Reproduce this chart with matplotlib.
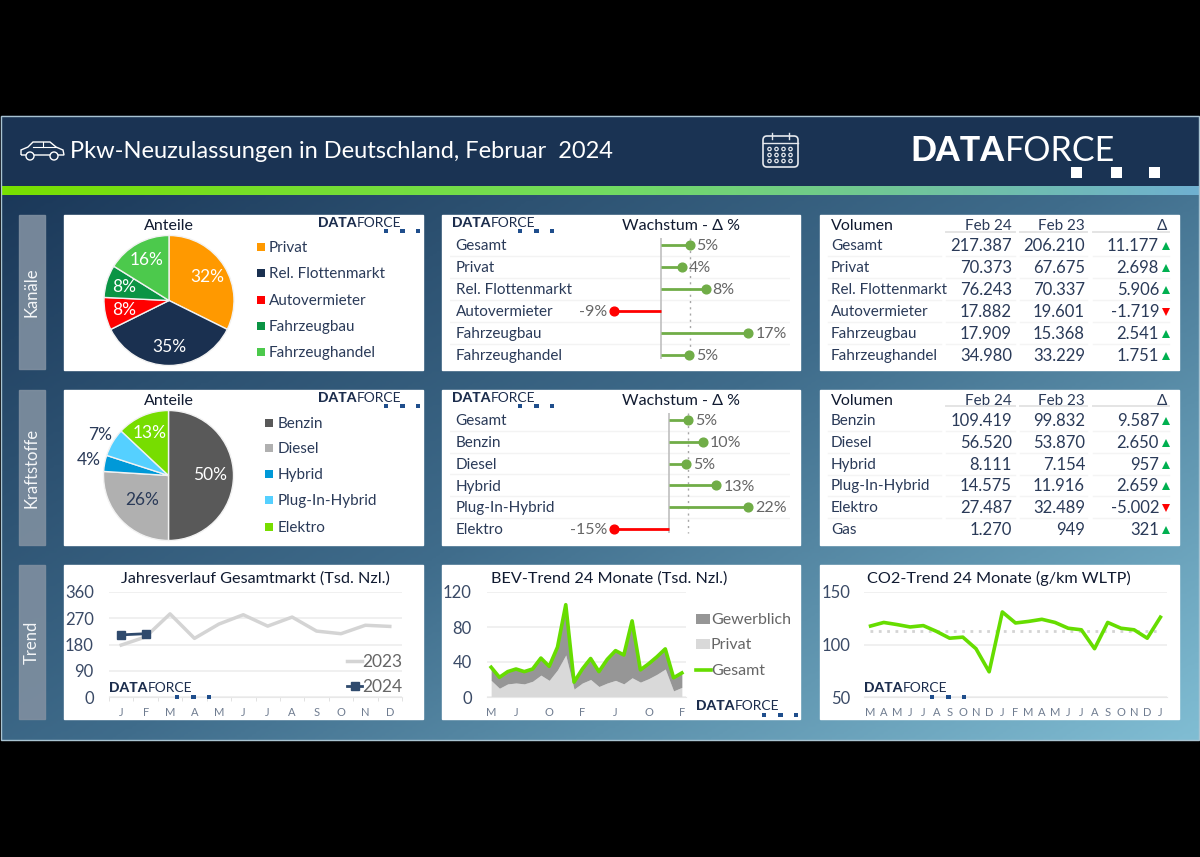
import numpy as np
import matplotlib
matplotlib.use("Agg")
import matplotlib.pyplot as plt
from matplotlib.patches import Rectangle, FancyBboxPatch, Circle, PathPatch
from matplotlib.path import Path
from matplotlib.colors import LinearSegmentedColormap

# ---------- data ----------
channels = ["Gesamt", "Privat", "Rel. Flottenmarkt", "Autovermieter", "Fahrzeugbau", "Fahrzeughandel"]
ch_feb24 = [217387, 70373, 76243, 17882, 17909, 34980]
ch_feb23 = [206210, 67675, 70337, 19601, 15368, 33229]
ch_delta = [11177, 2698, 5906, -1719, 2541, 1751]
ch_growth = [5.4, 4.0, 8.4, -8.8, 16.5, 5.3]
ch_growth_lbl = ["5%", "4%", "8%", "-9%", "17%", "5%"]
ch_share = [32, 35, 8, 8, 16]
ch_share_lbl = ["32%", "35%", "8%", "8%", "16%"]
ch_colors = ["#ff9900", "#1a3050", "#ff0000", "#0a9444", "#4cc94c"]

fuels_tab = ["Benzin", "Diesel", "Hybrid", "Plug-In-Hybrid", "Elektro", "Gas"]
fu_feb24 = [109419, 56520, 8111, 14575, 27487, 1270]
fu_feb23 = [99832, 53870, 7154, 11916, 32489, 949]
fu_delta = [9587, 2650, 957, 2659, -5002, 321]
fu_names = ["Benzin", "Diesel", "Hybrid", "Plug-In-Hybrid", "Elektro"]
fu_share = [50, 26, 4, 7, 13]
fu_share_lbl = ["50%", "26%", "4%", "7%", "13%"]
fu_colors = ["#595959", "#b0b0b0", "#0099d8", "#55d0ff", "#77dd00"]
fu_growth_names = ["Gesamt", "Benzin", "Diesel", "Hybrid", "Plug-In-Hybrid", "Elektro"]
fu_growth = [5.4, 9.6, 4.9, 13.4, 22.3, -15.4]
fu_growth_lbl = ["5%", "10%", "5%", "13%", "22%", "-15%"]

months12 = ["J", "F", "M", "A", "M", "J", "J", "A", "S", "O", "N", "D"]
market_2023 = [178, 206, 285, 201, 250, 282, 243, 274, 226, 217, 246, 242]
market_2024 = [213, 217]

bev_total = [34, 22.5, 29, 32, 29, 32, 44.5, 35, 57, 105.5, 17, 32, 44, 29, 43, 53, 48, 87, 31, 38, 46, 55, 22, 27.5]
bev_private = [19, 10, 15, 16, 15, 18, 25, 19, 31, 48, 9, 16, 20, 12, 16, 19, 15, 22, 17, 21, 26, 32, 7, 11]
bev_tick_pos = [0, 3, 7, 11, 15, 19, 23]
bev_tick_lbl = ["M", "J", "O", "F", "J", "O", "F"]

co2 = [117.6, 121, 119, 116.7, 118, 112.5, 106, 107, 96, 74, 131, 120.5, 122, 124, 121, 115.5, 114, 96, 121, 115.5, 114, 106, 126]
co2_avg = 113
co2_months = list("MAMJJASONDJFMAMJJASONDJ")

NAVY = "#2a3a58"
GREY = "#666666"
FONT = "Lato"
plt.rcParams["font.family"] = [FONT, "DejaVu Sans"]

W, H = 1200, 857
fig = plt.figure(figsize=(12, 8.57), dpi=100, facecolor="black")


def axpx(x0, y0, x1, y1, **kw):
    return fig.add_axes([x0 / W, 1 - y1 / H, (x1 - x0) / W, (y1 - y0) / H], **kw)


bg = fig.add_axes([0, 0, 1, 1], zorder=0)
bg.axis("off")
fg = fig.add_axes([0, 0, 1, 1], zorder=20)
fg.axis("off")
fg.patch.set_alpha(0)


def T(x, y, s, **kw):
    kw.setdefault("va", "center")
    return fg.text(x, y + 1.2, s, **kw)


# ---------- background ----------
yy, xx = np.mgrid[0:1:200j, 0:1:300j]
cmap = LinearSegmentedColormap.from_list("bg", ["#1b3859", "#3f6c8b", "#80bdd3"])
bg.imshow(xx * 0.55 + yy * 0.45, extent=(1, 1199, 740, 190), aspect="auto", cmap=cmap, vmin=0, vmax=1)
bg.add_patch(Rectangle((1, 116), 1198, 71, color="#1a3353", zorder=2))
strip = LinearSegmentedColormap.from_list("st", ["#78e000", "#72dc60", "#6fb0d0"])
bg.imshow(np.linspace(0, 1, 300).reshape(1, -1), extent=(1, 1199, 195, 186), aspect="auto", cmap=strip, zorder=3)
bg.add_patch(Rectangle((1, 115.5), 1198, 624.5, fill=False, ec="#a9c4d2", lw=1, zorder=4))
bg.set_xlim(0, W)
bg.set_ylim(H, 0)
fg.set_xlim(0, W)
fg.set_ylim(H, 0)

panels = [(64, 215, 423, 370), (442, 215, 800, 370), (820, 215, 1179, 370),
          (64, 390, 423, 545), (442, 390, 800, 545), (820, 390, 1179, 545),
          (64, 565, 423, 719), (442, 565, 800, 719), (820, 565, 1179, 719)]
for p in panels:
    bg.add_patch(Rectangle((p[0], p[1]), p[2] - p[0], p[3] - p[1], color="white", zorder=5))
for (y0, y1, s) in [(215, 369, "Kanäle"), (390, 545, "Kraftstoffe"), (565, 719, "Trend")]:
    bg.add_patch(Rectangle((19, y0), 26, y1 - y0, color="#7f8fa0", alpha=0.9, zorder=5))
    fg.text(32, (y0 + y1) / 2, s, rotation=90, color="#f4f6f8", fontsize=12, ha="center", va="center")


def logo(x, y, scale, col, sqcol):
    fs = 24.5 * scale
    t1 = fg.text(x, y, "DATA", color=col, fontsize=fs, weight="black", ha="left", va="center")
    r = fig.canvas.get_renderer()
    e = t1.get_window_extent(r)
    fg.text(x + e.width + 1 * scale, y, "FORCE", color=col, fontsize=fs, ha="left", va="center")
    s = 11 * scale
    for dx in (166, 206, 244):
        fg.add_patch(Rectangle((x + dx * scale - s / 2, y + 21 * scale - s / 2), s, s, color=sqcol, lw=0))


# ---------- header ----------
T(70, 150, "Pkw-Neuzulassungen in Deutschland, Februar  2024", color="white", fontsize=17, ha="left")
logo(910, 151, 1.0, "white", "white")
# car icon
car = Path([(21, 155), (21, 150), (28, 147), (33, 142), (50, 142), (56, 147), (63, 150), (64, 155), (21, 155)])
fg.add_patch(PathPatch(car, fc="none", ec="white", lw=1))
fg.plot([33, 56], [147, 147], color="white", lw=0.8)
fg.plot([43, 43], [142, 147], color="white", lw=0.8)
for cx in (30, 54):
    fg.add_patch(Circle((cx, 156), 4, fc="#1a3353", ec="white", lw=1))
# calendar icon
fg.add_patch(FancyBboxPatch((763, 136), 35, 31, boxstyle="round,pad=0,rounding_size=4", fc="none", ec="#e6e9ee", lw=1.2))
fg.plot([763, 798], [143, 143], color="#e6e9ee", lw=1)
for cx in (772, 789):
    fg.plot([cx, cx], [133, 139], color="#e6e9ee", lw=1)
for cy in (149, 155, 161):
    for cx in (769.5, 776.5, 783.5, 790.5):
        fg.add_patch(Circle((cx, cy), 1.7, fc="none", ec="#e6e9ee", lw=0.9))


# ---------- pies ----------
def pie(cx, cy, r, vals, labels, colors, lblcols, lblr):
    ax = axpx(cx - r, cy - r, cx + r, cy + r, zorder=10)
    wedges, _ = ax.pie(vals, colors=colors, startangle=90, counterclock=False, radius=1,
                       wedgeprops=dict(edgecolor="#f2f2f2", linewidth=1))
    ax.set_xlim(-1, 1)
    ax.set_ylim(-1, 1)
    ax.patch.set_alpha(0)
    for w, l, c, rr in zip(wedges, labels, lblcols, lblr):
        a = np.deg2rad((w.theta1 + w.theta2) / 2)
        ax.text(rr * np.cos(a), rr * np.sin(a), l, color=c, fontsize=12.5, ha="center", va="center", clip_on=False)


pie(169, 300.5, 65, ch_share, ch_share_lbl, ch_colors, ["white"] * 5, [0.69, 0.72, 0.70, 0.72, 0.72])
pie(168.5, 475.5, 65, fu_share, fu_share_lbl, fu_colors, ["white", NAVY, NAVY, NAVY, "white"], [0.64, 0.56, 1.25, 1.22, 0.72])


def legend(sx, tx, ys, names, colors):
    for y, n, c in zip(ys, names, colors):
        fg.add_patch(Rectangle((sx, y - 4), 8, 8, color=c, lw=0))
        T(tx, y, n, color=NAVY, fontsize=11, ha="left")


legend(257, 269, [247, 273, 300, 326, 352], channels[1:], ch_colors)
legend(265, 278, [423, 448, 474, 500, 527], fu_names, fu_colors)
T(169, 225, "Anteile", color="#101a30", fontsize=11.5, ha="center")
T(169, 399.5, "Anteile", color="#101a30", fontsize=11.5, ha="center")
logo(318, 222.5, 0.41, "#1c2d4d", "#1f4e8c")
logo(452, 222.5, 0.41, "#1c2d4d", "#1f4e8c")
logo(318, 397.5, 0.41, "#1c2d4d", "#1f4e8c")
logo(452, 397.5, 0.41, "#1c2d4d", "#1f4e8c")


# ---------- lollipops ----------
def lollipop(zero, pxper, ytop, rowh, names, vals, lbls, total):
    x0, x1 = 450, 790
    ax = axpx(x0, ytop, x1, ytop + rowh * 6, zorder=10)
    ax.set_xlim((x0 - zero) / pxper, (x1 - zero) / pxper)
    ax.set_ylim(5.5, -0.5)
    ax.axis("off")
    ax.patch.set_alpha(0)
    for i in range(1, 6):
        ax.axhline(i - 0.5, color="#f3f3f3", lw=1, zorder=1)
    ax.vlines(0, -0.3, 5.2, color="#bfbfbf", lw=1.2, zorder=2)
    ax.vlines(total, -0.3, 5.2, color="#a6a6a6", lw=1, linestyles=(0, (1.5, 3)), zorder=2)
    for i, (n, v, l) in enumerate(zip(names, vals, lbls)):
        c = "#70ad47" if v >= 0 else "#ff0000"
        ax.plot([0, v], [i, i], color=c, lw=2, zorder=3, solid_capstyle="butt")
        ax.plot([v], [i], "o", color=c, ms=6.3, zorder=4)
        ax.annotate(l, (v, i), xytext=(5 if v >= 0 else -5, -1), textcoords="offset points",
                    ha="left" if v >= 0 else "right", va="center", color=GREY, fontsize=11.5)
        ax.annotate(n, (0.0, i), xycoords=ax.get_yaxis_transform(), xytext=(4, -1), textcoords="offset points",
                    ha="left", va="center", color=NAVY, fontsize=11)


lollipop(661, 5.3, 234, 22, channels, ch_growth, ch_growth_lbl, ch_growth[0])
lollipop(669, 3.54, 409, 21.8, fu_growth_names, fu_growth, fu_growth_lbl, fu_growth[0])
T(681, 225, "Wachstum - Δ %", color="#101a30", fontsize=11.5, ha="center")
T(681, 399.5, "Wachstum - Δ %", color="#101a30", fontsize=11.5, ha="center")


# ---------- tables ----------
def fmt(v):
    return f"{v:,}".replace(",", ".")


def table(yh, ys, names, a, b, d):
    T(831, yh, "Volumen", color="#101a30", fontsize=11.5, ha="left")
    T(1012, yh, "Feb 24", color=NAVY, fontsize=11, ha="right")
    T(1085, yh, "Feb 23", color=NAVY, fontsize=11, ha="right")
    T(1167, yh, "Δ", color=NAVY, fontsize=11, ha="right")
    for xa, xb in [(946, 1015), (1020, 1087), (1093, 1169)]:
        fg.plot([xa, xb], [yh + 6.5, yh + 6.5], color="#e4e4e4", lw=1.4)
    for i, y in enumerate(ys):
        if i < len(ys) - 1:
            for xa, xb in [(828, 941), (946, 1015), (1020, 1087), (1093, 1169)]:
                fg.plot([xa, xb], [y + 11, y + 11], color="#f4f4f4", lw=1)
        T(831, y, names[i], color=NAVY, fontsize=11, ha="left")
        T(1012, y, fmt(a[i]), color=NAVY, fontsize=12, ha="right")
        T(1085, y, fmt(b[i]), color=NAVY, fontsize=12, ha="right")
        T(1159, y, fmt(d[i]), color=NAVY, fontsize=12, ha="right")
        up = d[i] >= 0
        fg.plot([1166], [y + 1], "^" if up else "v", color="#00b050" if up else "#ff0000", ms=5.5, mew=0)


table(225, [245, 267, 289, 311, 333, 355], channels, ch_feb24, ch_feb23, ch_delta)
table(399.5, [420, 442, 464, 485, 507, 529], fuels_tab, fu_feb24, fu_feb23, fu_delta)


# ---------- trends ----------
def trend_axes(x0, x1, ymin, ymax, yticks, n, xticks, xlabels, pad):
    ax = axpx(x0, 592, x1, 697, zorder=10)
    ax.set_xlim(-0.5, n - 0.5)
    ax.set_ylim(ymin, ymax)
    ax.patch.set_alpha(0)
    for s in ("top", "right", "left"):
        ax.spines[s].set_visible(False)
    ax.spines["bottom"].set_color("#e8e8e8")
    ax.set_yticks(yticks)
    ax.set_yticklabels([str(v) for v in yticks], color="#3a4a66", fontsize=12)
    ax.set_xticks(xticks)
    ax.set_xticklabels(xlabels, color="#6f7c90", fontsize=8)
    ax.tick_params(axis="y", length=0, pad=pad)
    ax.tick_params(axis="x", length=0, pad=7)
    ax.grid(axis="y", color="#eeeeee", lw=1.2)
    ax.set_axisbelow(True)
    return ax


ax1 = trend_axes(109, 402, 0, 360, [0, 90, 180, 270, 360], 12, list(range(12)), months12, 11)
ax1.plot(range(12), market_2023, color="#d4d4d4", lw=2.5)
ax1.plot(range(2), market_2024, color="#2f4a6d", lw=2, marker="s", ms=5.5)
ax1.set_xticks(np.arange(-0.5, 12), minor=True)
ax1.tick_params(axis="x", which="minor", length=3, color="#dddddd")
fg.plot([347, 362], [661, 661], color="#d4d4d4", lw=2.5)
T(362, 661, "2023", color=GREY, fontsize=12.5, ha="left")
fg.plot([347, 362], [685.5, 685.5], color="#2f4a6d", lw=2)
fg.plot([354.5], [685.5], "s", color="#2f4a6d", ms=5.5)
T(362, 685.5, "2024", color=GREY, fontsize=12.5, ha="left")
T(255, 577, "Jahresverlauf Gesamtmarkt (Tsd. Nzl.)", color="#101a30", fontsize=11.7, ha="center")
logo(109, 688.5, 0.41, "#1c2d4d", "#1f4e8c")

ax2 = trend_axes(487, 686, 0, 120, [0, 40, 80, 120], 24, bev_tick_pos, bev_tick_lbl, 11)
xs = np.arange(24)
ax2.fill_between(xs, 0, bev_private, color="#d9d9d9", lw=0)
ax2.fill_between(xs, bev_private, bev_total, color="#969696", lw=0)
ax2.plot(xs, bev_total, color="#66dd00", lw=2.6)
fg.add_patch(Rectangle((696, 614), 14, 10, color="#969696", lw=0))
fg.add_patch(Rectangle((696, 639), 14, 10, color="#d9d9d9", lw=0))
fg.plot([696, 711], [670, 670], color="#66dd00", lw=2.6)
for y, s in [(619, "Gewerblich"), (644, "Privat"), (670, "Gesamt")]:
    T(711, y, s, color=GREY, fontsize=11.5, ha="left")
T(609, 577, "BEV-Trend 24 Monate (Tsd. Nzl.)", color="#101a30", fontsize=11.7, ha="center")
logo(696, 706.5, 0.41, "#1c2d4d", "#1f4e8c")

ax3 = trend_axes(864, 1167, 50, 150, [50, 100, 150], 23, list(range(23)), co2_months, 10)
ax3.axhline(co2_avg, xmin=0.02, xmax=0.98, color="#d4d4d4", lw=2, linestyle=(0, (1, 2)))
ax3.plot(range(23), co2, color="#66dd00", lw=2.6)
T(999, 577, "CO2-Trend 24 Monate (g/km WLTP)", color="#101a30", fontsize=11.7, ha="center")
logo(864, 688.5, 0.41, "#1c2d4d", "#1f4e8c")

fig.savefig("out.png", dpi=100, facecolor="black")
